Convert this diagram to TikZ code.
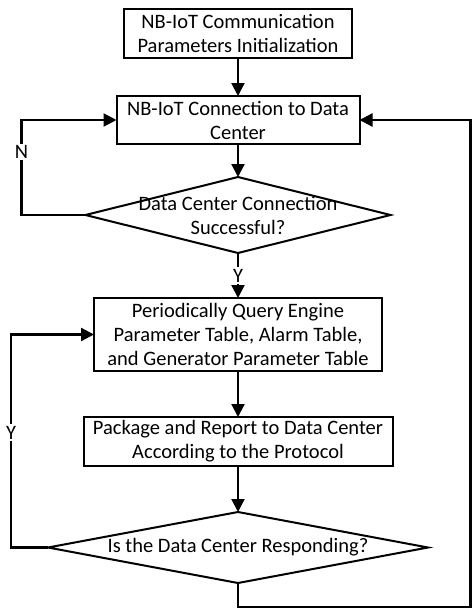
\documentclass[tikz,border=0pt]{standalone}
\usepackage{fontspec}
\setmainfont{Carlito}
\usetikzlibrary{positioning,shapes.geometric,arrows.meta}

\begin{document}
\begin{tikzpicture}[
  x=1pt, y=1pt,
  procbox/.style={
    rectangle, draw=black, line width=2pt, outer sep=0pt,
    fill=white, align=center, inner sep=2pt,
    font=\fontsize{20.5}{24}\selectfont
  },
  decision/.style={diamond, draw=black, line width=2pt, inner sep=0pt, outer sep=0pt},
  decisiontext/.style={align=center, font=\fontsize{20.5}{24}\selectfont},
  flow/.style={-{Triangle[length=13pt,width=13pt]}, line width=2.2pt},
  branch/.style={fill=white, inner sep=1.5pt, font=\fontsize{20.5}{24}\selectfont},
  node distance=38pt
]
\useasboundingbox (0,0) rectangle (472,-610);

% Nodes
\node[procbox, minimum width=228pt, minimum height=49pt] (init) at (238,-33.5)
  {NB-IoT Communication\\Parameters Initialization};
\node[procbox, minimum width=243pt, minimum height=48pt, below=38pt of init] (conn)
  {NB-IoT Connection to Data\\Center};
\node[decision, minimum width=305pt, minimum height=76pt, below=33pt of conn] (chk) {};
\node[decisiontext] (chktext) at (chk) {Data Center Connection\\Successful?};
\node[procbox, minimum width=288pt, minimum height=73pt, below=45pt of chk] (query)
  {Periodically Query Engine\\Parameter Table, Alarm Table,\\and Generator Parameter Table};
\node[procbox, minimum width=309pt, minimum height=49pt, below=46pt of query] (report)
  {Package and Report to Data Center\\According to the Protocol};
\node[decision, minimum width=380pt, minimum height=71pt, below=46pt of report] (resp) {};
\node[decisiontext] (resptext) at (resp) {Is the Data Center Responding?};

% Main flow
\draw[flow] (init) -- (conn);
\draw[flow] (conn) -- (chk);
\draw[flow] (chk) -- node[branch] {Y} (query);
\draw[flow] (query) -- (report);
\draw[flow] (report) -- (resp);

% Loops back
\draw[flow] (chk.west) -- ++(-64,0) |- node[branch, pos=0.33] {N} (conn.west);
\draw[flow] (resp.west) -- ++(-37,0) |- node[branch, pos=0.27] {Y} (query.west);
\draw[flow] (resp.south) -- ++(0,-24) -| ([xshift=111pt]conn.east) -- (conn.east);

\end{tikzpicture}
\end{document}
